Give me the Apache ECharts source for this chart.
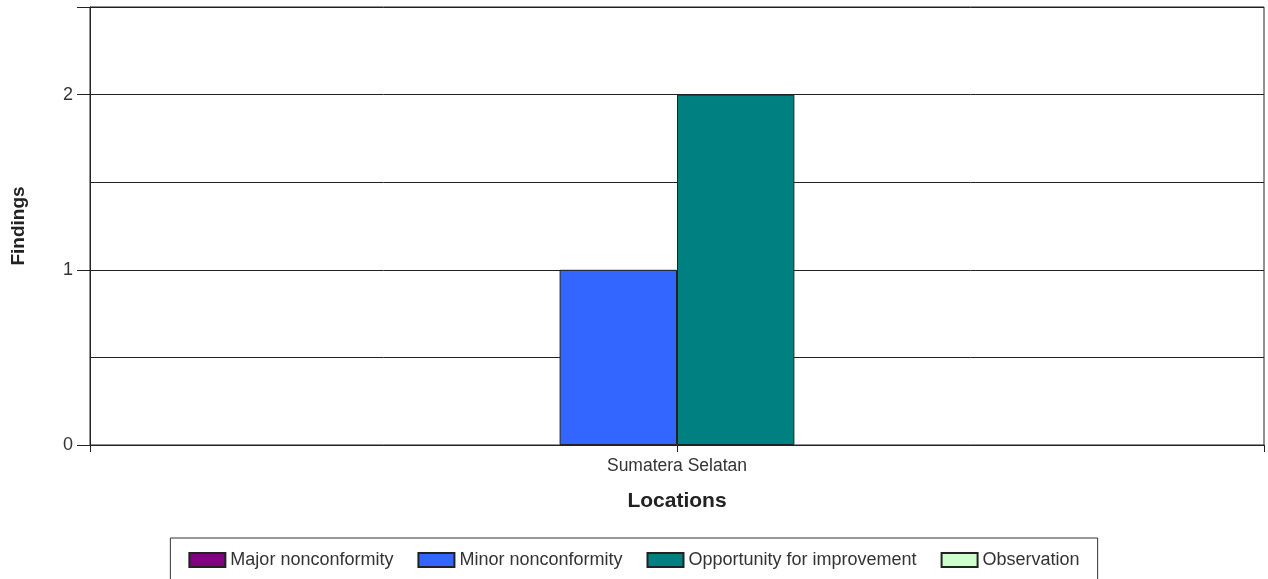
<!DOCTYPE html>
<html><head><meta charset="utf-8">
<script src="https://cdn.jsdelivr.net/npm/echarts@6/dist/echarts.min.js"></script>
<style>html,body{margin:0;padding:0;background:#fff}#c{width:1268px;height:579px}</style>
</head><body><div id="c"></div>
<script>
const categories = ['Sumatera Selatan'];
const seriesNames = ['Major nonconformity', 'Minor nonconformity', 'Opportunity for improvement', 'Observation'];
const majorValues = [0];
const minorValues = [1];
const opportunityValues = [2];
const observationValues = [0];
const seriesColors = ['#800080', '#3366FF', '#008080', '#CCFFCC'];
const yTickLabels = ['0', '1', '2'];

const values = [majorValues, minorValues, opportunityValues, observationValues];
const font = 'Liberation Sans, Arial, sans-serif';
const chart = echarts.init(document.getElementById('c'));
chart.setOption({
  animation: false,
  backgroundColor: '#fff',
  grid: { left: 90, right: 4, top: 7, bottom: 134, show: true, borderColor: '#222', borderWidth: 1, containLabel: false, outerBoundsMode: 'none' },
  legend: {
    data: seriesNames, left: 'center', top: 538,
    padding: [13, 18, 40, 18], itemGap: 24, itemWidth: 36, itemHeight: 14,
    borderColor: '#333', borderWidth: 1, icon: 'rect',
    textStyle: { fontFamily: font, fontSize: 18, color: '#333' }
  },
  xAxis: [{
    type: 'category', data: categories,
    name: 'Locations', nameLocation: 'middle', nameGap: 46,
    nameTextStyle: { fontFamily: font, fontSize: 21, fontWeight: 'bold', color: '#222' },
    axisLine: { lineStyle: { color: '#222', width: 1 } },
    axisTick: { show: true, length: 7, lineStyle: { color: '#222' } },
    axisLabel: { fontFamily: font, fontSize: 17.5, color: '#333', margin: 12 }
  }, {
    type: 'category', data: categories, position: 'bottom',
    axisLine: { show: false },
    axisTick: { show: true, alignWithLabel: true, length: 7, lineStyle: { color: '#222' } },
    axisLabel: { show: false }
  }],
  yAxis: [{
    type: 'value', min: 0, max: 2.5, interval: 0.5,
    name: 'Findings', nameLocation: 'middle', nameGap: 62, nameRotate: 90,
    nameTextStyle: { fontFamily: font, fontSize: 19, fontWeight: 'bold', color: '#222' },
    axisLine: { show: true, lineStyle: { color: '#222', width: 1 } },
    axisTick: { show: false },
    axisLabel: { show: false },
    splitLine: { show: true, lineStyle: { color: '#222', width: 1 } }
  }, {
    type: 'value', min: 0, max: 2.5, interval: 1, position: 'left',
    axisLine: { show: false },
    axisTick: { show: true, length: 13, lineStyle: { color: '#222' } },
    axisLabel: {
      fontFamily: font, fontSize: 18, color: '#333', margin: 17,
      formatter: v => (yTickLabels.indexOf(String(v)) >= 0 ? String(v) : '')
    },
    splitLine: { show: false }
  }],
  series: seriesNames.map((n, i) => ({
    name: n, type: 'bar',
    data: values[i].map(v => (v === 0 ? { value: v, itemStyle: { borderWidth: 0 } } : v)),
    barGap: '0%', barCategoryGap: '60%',
    itemStyle: { color: seriesColors[i], borderColor: '#222', borderWidth: 1 }
  }))
});
</script></body></html>
